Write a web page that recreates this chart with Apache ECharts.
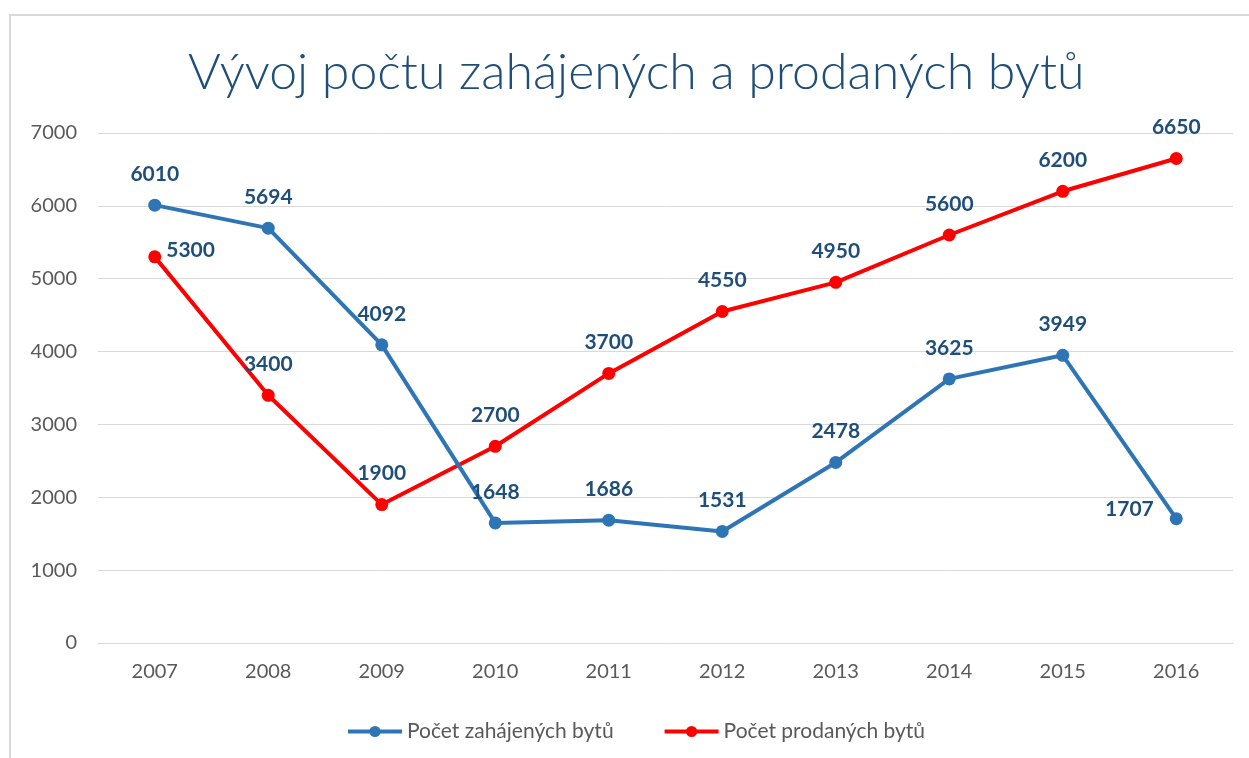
<!DOCTYPE html>
<html>
<head>
<meta charset="utf-8">
<script src="https://cdn.jsdelivr.net/npm/echarts@6/dist/echarts.min.js"></script>
<style>
html,body{margin:0;padding:0;background:#fff;}
#frame{position:absolute;left:9px;top:14px;width:1260px;height:760px;border-left:2px solid #D9D9D9;border-top:2px solid #D9D9D9;box-sizing:border-box;}
#chart{position:absolute;left:0;top:0;width:1249px;height:758px;}
</style>
</head>
<body>
<div id="frame"></div>
<div id="chart"></div>
<script>
const titleText = 'Vývoj počtu zahájených a prodaných bytů';
const categories = ['2007','2008','2009','2010','2011','2012','2013','2014','2015','2016'];
const startedName = 'Počet zahájených bytů';
const soldName = 'Počet prodaných bytů';
const started = [6010, 5694, 4092, 1648, 1686, 1531, 2478, 3625, 3949, 1707];
const sold = [5300, 3400, 1900, 2700, 3700, 4550, 4950, 5600, 6200, 6650];
const yMin = 0, yMax = 7000, yStep = 1000;

const FONT = 'Lato';
const labelColor = '#1F4E79';
const labelBase = {show:true, position:'top', distance:14, color:labelColor, fontFamily:FONT, fontWeight:'bold', fontSize:21};

const chart = echarts.init(document.getElementById('chart'), null, {renderer:'canvas'});
chart.setOption({
  backgroundColor:'transparent',
  animation:false,
  title:{text:titleText, left:188, top:48, padding:0,
    textStyle:{fontFamily:FONT, fontWeight:300, fontSize:50, color:'#1F4E79'}},
  grid:{left:98, right:16, top:133, bottom:115, containLabel:false},
  legend:{top:716, left:341, itemWidth:54, itemHeight:14, itemGap:49,
    lineStyle:{width:4}, itemStyle:{borderWidth:0},
    textStyle:{fontFamily:FONT, fontSize:21, color:'#595959'},
    data:[startedName, soldName]},
  xAxis:{type:'category', data:categories, boundaryGap:true,
    axisLine:{lineStyle:{color:'#D9D9D9', width:1}}, axisTick:{show:false},
    axisLabel:{fontFamily:FONT, fontSize:20, color:'#595959', margin:19}},
  yAxis:{type:'value', min:yMin, max:yMax, interval:yStep,
    axisLine:{show:false}, axisTick:{show:false},
    splitLine:{lineStyle:{color:'#D9D9D9', width:1}},
    axisLabel:{fontFamily:FONT, fontSize:20, color:'#595959', margin:21, formatter:(v)=>String(v)}},
  series:[
    {name:startedName, type:'line', data:started.map((v,i)=> i===categories.length-1 ? {value:v, label:{position:'left', distance:16, offset:[0,-9]}} : v),
      symbol:'circle', symbolSize:13, lineStyle:{width:4, color:'#2E75B6'}, itemStyle:{color:'#2E75B6'},
      label:labelBase, z:3},
    {name:soldName, type:'line', data:sold.map((v,i)=> i===0 ? {value:v, label:{position:'right', distance:5, offset:[0,-7]}} : v),
      symbol:'circle', symbolSize:13, lineStyle:{width:4, color:'#FF0000'}, itemStyle:{color:'#FF0000'},
      label:labelBase, z:2}
  ]
});
</script>
</body>
</html>
